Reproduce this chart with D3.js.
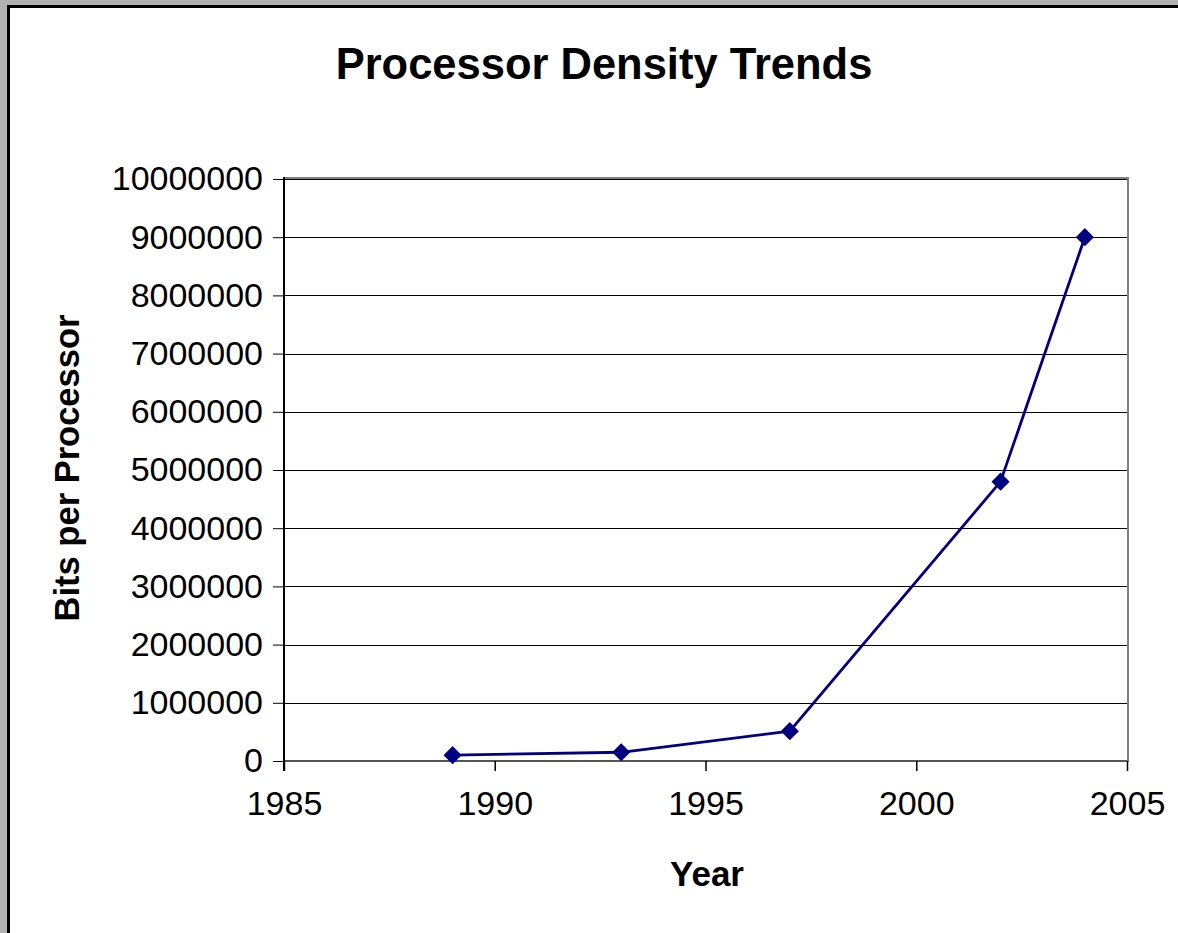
<!DOCTYPE html>
<html>
<head>
<meta charset="utf-8">
<script src="https://cdn.jsdelivr.net/npm/d3@7"></script>
<style>
  html, body { margin: 0; padding: 0; background: #b2b2b2; }
  svg { display: block; }
</style>
</head>
<body>
<svg id="chart" width="1178" height="933"></svg>
<script>
const years = [1989, 1993, 1997, 2002, 2004];
const bitsPerProcessor = [100000, 150000, 512000, 4800000, 9000000];
const xTicks = [1985, 1990, 1995, 2000, 2005];
const yTicks = [0, 1000000, 2000000, 3000000, 4000000, 5000000, 6000000, 7000000, 8000000, 9000000, 10000000];
const titleText = "Processor Density Trends";
const xTitle = "Year";
const yTitle = "Bits per Processor";

const svg = d3.select("#chart");
const font = "'Liberation Sans', Arial, sans-serif";

// outer frame
svg.append("rect").attr("x", 0).attr("y", 0).attr("width", 1178).attr("height", 933).attr("fill", "#b2b2b2");
svg.append("rect").attr("x", 8.5).attr("y", 6.5).attr("width", 1200).attr("height", 1000)
  .attr("fill", "#ffffff").attr("stroke", "#000").attr("stroke-width", 3);

const plot = { left: 284, right: 1127, top: 179, bottom: 761 };
const x = d3.scaleLinear().domain([1985, 2005]).range([plot.left, plot.right]);
const y = d3.scaleLinear().domain([0, 10000000]).range([plot.bottom, plot.top]);

// gridlines
svg.append("g").selectAll("line").data(yTicks.filter(d => d > 0)).join("line")
  .attr("x1", plot.left).attr("x2", plot.right)
  .attr("y1", d => Math.round(y(d)) + 0.5).attr("y2", d => Math.round(y(d)) + 0.5)
  .attr("stroke", "#000").attr("stroke-width", 1);

// plot border (gray)
svg.append("rect").attr("x", plot.left).attr("y", plot.top - 1)
  .attr("width", plot.right - plot.left + 1).attr("height", plot.bottom - plot.top + 1)
  .attr("fill", "none").attr("stroke", "#808080").attr("stroke-width", 2);

// x axis
const xAxis = d3.axisBottom(x).tickValues(xTicks).tickFormat(d3.format("d")).tickSize(10).tickPadding(20);
const gx = svg.append("g").attr("transform", `translate(0,${plot.bottom})`).call(xAxis);
gx.select(".domain").attr("stroke", "#555").attr("stroke-width", 2).attr("d", `M${plot.left},0H${plot.right}`);
gx.selectAll(".tick line").attr("stroke", "#000").attr("stroke-width", 1.5);
gx.selectAll(".tick text").attr("font-family", font).attr("font-size", 34).attr("fill", "#000");

// y axis
const yAxis = d3.axisLeft(y).tickValues(yTicks).tickFormat(d3.format("d")).tickSize(11).tickPadding(10);
const gy = svg.append("g").attr("transform", `translate(${plot.left},0)`).call(yAxis);
gy.select(".domain").attr("stroke", "#000").attr("stroke-width", 2).attr("d", `M0,${plot.top - 2}V${plot.bottom + 10}`);
gy.selectAll(".tick line").attr("stroke", "#000").attr("stroke-width", 1);
gy.selectAll(".tick text").attr("font-family", font).attr("font-size", 34).attr("fill", "#000");

// line
const line = d3.line().x((d, i) => x(years[i])).y(d => y(d));
svg.append("path").datum(bitsPerProcessor).attr("d", line)
  .attr("fill", "none").attr("stroke", "#000080").attr("stroke-width", 2.8);

// markers
svg.append("g").selectAll("path").data(bitsPerProcessor).join("path")
  .attr("d", d3.symbol().type(d3.symbolSquare).size(165))
  .attr("transform", (d, i) => `translate(${x(years[i])},${y(d)}) rotate(45)`)
  .attr("fill", "#000080");

// titles
svg.append("text").attr("x", 604).attr("y", 79).attr("text-anchor", "middle")
  .attr("font-family", font).attr("font-weight", "bold").attr("font-size", 43.5).text(titleText);
svg.append("text").attr("x", 707).attr("y", 886).attr("text-anchor", "middle")
  .attr("font-family", font).attr("font-weight", "bold").attr("font-size", 35).text(xTitle);
svg.append("text").attr("transform", `translate(79,468) rotate(-90)`).attr("text-anchor", "middle")
  .attr("font-family", font).attr("font-weight", "bold").attr("font-size", 34.5).text(yTitle);
</script>
</body>
</html>
